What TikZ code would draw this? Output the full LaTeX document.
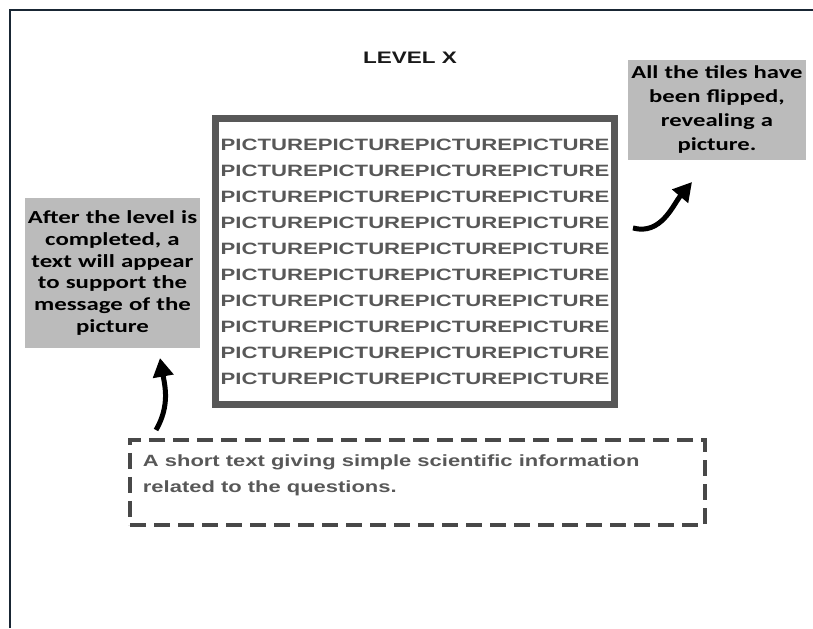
\documentclass[tikz,border=0pt]{standalone}
\usepackage{fontspec}
\setmainfont{Liberation Sans}
\newfontfamily\calloutfont[FakeStretch=1.35]{Carlito}
\newfontfamily\gridfont[FakeStretch=1.35]{Liberation Sans}
\usetikzlibrary{shapes}
\usetikzlibrary{arrows.meta}
\usetikzlibrary{positioning}
\definecolor{framegray}{RGB}{88,88,88}
\definecolor{dashgray}{RGB}{72,72,72}
\definecolor{notegray}{RGB}{187,187,187}
\definecolor{bordernavy}{RGB}{25,38,52}
\tikzset{
	page_border/.style = {
		draw=bordernavy,
		line width=2pt
	},
	title/.style = {
		font=\gridfont\bfseries\fontsize{12.5pt}{15pt}\selectfont,
		text=black!90,
		inner sep=0pt
	},
	callout/.style = {
		align=center,
		inner sep=0pt,
		fill=notegray,
		text=black,
		text width=134pt,
		font=\calloutfont\bfseries\fontsize{13.7pt}{18pt}\selectfont
	},
	callout_tight/.style = {
		callout,
		text width=131pt,
		font=\calloutfont\bfseries\fontsize{13.8pt}{16.3pt}\selectfont
	},
	picture_frame/.style = {
		align=center,
		inner sep=0pt,
		draw=framegray,
		line width=5.25pt,
		text=framegray,
		font=\gridfont\bfseries\fontsize{12.3pt}{19.5pt}\selectfont
	},
	info_box/.style = {
		draw=dashgray,
		line width=3pt,
		dash pattern=on 12pt off 6pt,
		inner sep=0pt
	},
	info_text/.style = {
		align=left,
		inner sep=0pt,
		text=framegray,
		font=\gridfont\bfseries\fontsize{12.2pt}{19.5pt}\selectfont
	},
	curl_arrow/.style = {
		->,
		line width=3.75pt,
		black
	}
}

\begin{document}
\begin{tikzpicture}[x=0.75pt, y=0.75pt, >={Triangle[length=14pt,width=15pt]}]
\useasboundingbox (0,0) rectangle (813,628);
\draw [page_border] (10,0) -- (10,618) -- (813,618);

\node [title] (level) at (410,570) {LEVEL X};

\node [picture_frame, minimum width=299.25pt, minimum height=214.5pt] (tiles) at (415,366.5) {
PICTUREPICTUREPICTUREPICTURE\\
PICTUREPICTUREPICTUREPICTURE\\
PICTUREPICTUREPICTUREPICTURE\\
PICTUREPICTUREPICTUREPICTURE\\
PICTUREPICTUREPICTUREPICTURE\\
PICTUREPICTUREPICTUREPICTURE\\
PICTUREPICTUREPICTUREPICTURE\\
PICTUREPICTUREPICTUREPICTURE\\
PICTUREPICTUREPICTUREPICTURE\\
PICTUREPICTUREPICTUREPICTURE};

\node [callout, minimum width=133.5pt, minimum height=75pt] (flipped) at (717,518)
	{All the tiles have\\ been flipped,\\ revealing a\\ picture.};
\node [callout_tight, minimum width=131pt, minimum height=112.5pt] (support) at (112.5,355)
	{After the level is\\ completed, a\\ text will appear\\ to support the\\ message of the\\ picture};

\node [info_box, minimum width=431.25pt, minimum height=63.75pt] (info) at (417.5,145.5) {};
\node [info_text, below right=12.5pt and 11pt of info.north west, anchor=north west] (info_label)
	{A short text giving simple scientific information\\ related to the questions.};

% arrows
\coordinate (flip_tail) at (633,400);
\coordinate (flip_tip) at (692,446);
\coordinate (support_tail) at (156,198);
\coordinate (support_tip) at (160,270);
\draw [curl_arrow] (flip_tail) to[out=-15, in=230] (flip_tip);
\draw [curl_arrow] (support_tail) to[out=60, in=-80] (support_tip);
\end{tikzpicture}
\end{document}
